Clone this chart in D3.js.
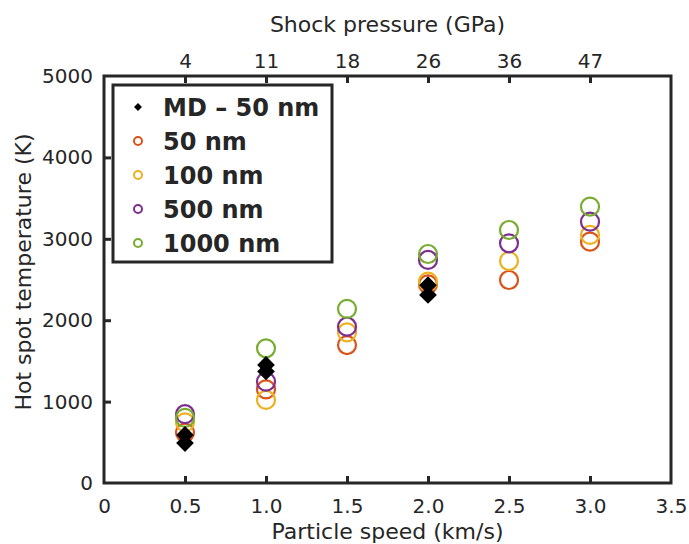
<!DOCTYPE html>
<html>
<head>
<meta charset="utf-8">
<script src="https://cdn.jsdelivr.net/npm/d3@7"></script>
<style>
  body { margin: 0; background: #fff; }
  text { font-family: "DejaVu Sans", sans-serif; fill: #262626; }
</style>
</head>
<body>
<div id="chart"></div>
<script>
// particle speed (km/s) and matching shock pressure labels (GPa)
const speeds = [0.5, 1.0, 1.5, 2.0, 2.5, 3.0];
const pressureLabels = ["4", "11", "18", "26", "36", "47"];
const xTicks = [0, 0.5, 1.0, 1.5, 2.0, 2.5, 3.0, 3.5];
const yTicks = [0, 1000, 2000, 3000, 4000, 5000];

// hot spot temperature (K) per grain size
const temp50 = [620, 1150, 1695, 2440, 2494, 2965];
const temp100 = [745, 1020, 1850, 2473, 2727, 3047];
const temp500 = [845, 1245, 1920, 2740, 2945, 3210];
const temp1000 = [800, 1655, 2140, 2813, 3108, 3395];

// MD results (50 nm)
const mdSpeed = [0.5, 0.5, 1.0, 1.0, 2.0, 2.0];
const mdTemp = [490, 590, 1450, 1370, 2430, 2310];

const seriesNames = ["50 nm", "100 nm", "500 nm", "1000 nm"];
const seriesColors = ["#D95319", "#EDB120", "#7E2F8E", "#77AC30"];
const seriesTemps = [temp50, temp100, temp500, temp1000];

const W = 689, H = 544;
const m = { top: 76, right: 18, bottom: 61, left: 104 };
const w = W - m.left - m.right;
const h = H - m.top - m.bottom;
const axisColor = "#262626";

const svg = d3.select("#chart").append("svg")
  .attr("width", W).attr("height", H);
const g = svg.append("g").attr("transform", `translate(${m.left},${m.top})`);

const x = d3.scaleLinear().domain([0, 3.5]).range([0, w]);
const y = d3.scaleLinear().domain([0, 5000]).range([h, 0]);

// axes, ticks pointing inward
const xAxis = g.append("g").attr("transform", `translate(0,${h})`)
  .call(d3.axisBottom(x).tickValues(xTicks)
    .tickFormat(d => d === 0 ? "0" : d3.format(".1f")(d))
    .tickSizeInner(-7).tickSizeOuter(0).tickPadding(16));
const yAxis = g.append("g")
  .call(d3.axisLeft(y).tickValues(yTicks).tickFormat(d3.format("d"))
    .tickSizeInner(-7).tickSizeOuter(0).tickPadding(11));
const topAxis = g.append("g")
  .call(d3.axisTop(x).tickValues(speeds)
    .tickFormat((d, i) => pressureLabels[i])
    .tickSizeInner(-7).tickSizeOuter(0).tickPadding(8));

[xAxis, yAxis, topAxis].forEach(a => {
  a.selectAll("path").remove();
  a.selectAll("line").attr("stroke", axisColor).attr("stroke-width", 3);
  a.selectAll("text").attr("font-size", 20).attr("fill", axisColor);
});
xAxis.selectAll(".tick").filter(d => d === 0 || d === 3.5).select("line").remove();
yAxis.selectAll(".tick").filter(d => d === 0 || d === 5000).select("line").remove();

// box
g.append("rect").attr("width", w).attr("height", h)
  .attr("fill", "none").attr("stroke", axisColor).attr("stroke-width", 3);

// axis labels
svg.append("text").attr("x", m.left + w / 2).attr("y", 539)
  .attr("text-anchor", "middle").attr("font-size", 22).text("Particle speed (km/s)");
svg.append("text").attr("x", m.left + w / 2).attr("y", 32)
  .attr("text-anchor", "middle").attr("font-size", 22).text("Shock pressure (GPa)");
svg.append("text").attr("transform", "translate(31,272) rotate(-90)")
  .attr("text-anchor", "middle").attr("font-size", 22).text("Hot spot temperature (K)");

// circle series
seriesTemps.forEach((temps, si) => {
  g.append("g").selectAll("circle")
    .data(speeds.map((s, i) => ({ s, t: temps[i] })))
    .join("circle")
    .attr("cx", d => x(d.s)).attr("cy", d => y(d.t))
    .attr("r", 9)
    .attr("fill", "none")
    .attr("stroke", seriesColors[si])
    .attr("stroke-width", 2.2);
});

// MD diamonds
const diamond = d3.symbol().type(d3.symbolDiamond2).size(200);
g.append("g").selectAll("path")
  .data(mdSpeed.map((s, i) => ({ s, t: mdTemp[i] })))
  .join("path")
  .attr("transform", d => `translate(${x(d.s)},${y(d.t)})`)
  .attr("d", diamond)
  .attr("fill", "#000");

// legend
const lg = svg.append("g").attr("transform", "translate(113,85)");
lg.append("rect").attr("width", 219).attr("height", 177)
  .attr("fill", "#fff").attr("stroke", axisColor).attr("stroke-width", 3);
const legendRows = ["MD \u2013 50 nm"].concat(seriesNames);
legendRows.forEach((name, i) => {
  const ry = 22 + i * 34;
  if (i === 0) {
    lg.append("path").attr("transform", `translate(25,${ry})`)
      .attr("d", d3.symbol().type(d3.symbolDiamond2).size(40)).attr("fill", "#000");
  } else {
    lg.append("circle").attr("cx", 25).attr("cy", ry).attr("r", 4)
      .attr("fill", "none").attr("stroke", seriesColors[i - 1]).attr("stroke-width", 2);
  }
  lg.append("text").attr("x", 50).attr("y", ry).attr("dy", "0.36em")
    .attr("font-size", 24).attr("font-weight", "bold").attr("fill", "#000").text(name);
});
</script>
</body>
</html>
